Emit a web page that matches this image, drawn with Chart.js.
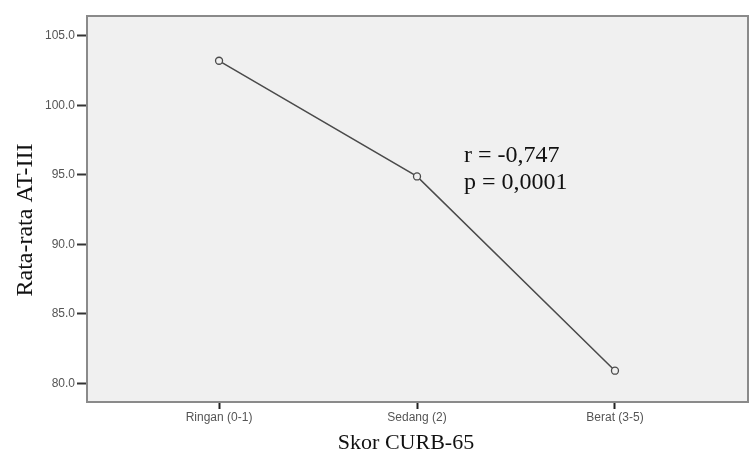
<!DOCTYPE html>
<html>
<head>
<meta charset="utf-8">
<script src="https://cdn.jsdelivr.net/npm/chart.js@4.4.1/dist/chart.umd.min.js"></script>
<style>
  html, body { margin: 0; padding: 0; background: #ffffff; }
  #wrap { width: 749px; height: 451px; }
</style>
</head>
<body>
<div id="wrap"><canvas id="chart" width="749" height="451"></canvas></div>
<script>
// data
const categories = ['Ringan (0-1)', 'Sedang (2)', 'Berat (3-5)'];
const meanAT3 = [103.2, 94.88, 80.91];
const yTickValues = [80, 85, 90, 95, 100, 105];
const xTitle = 'Skor CURB-65';
const yTitle = 'Rata-rata AT-III';
const statLines = ['r = -0,747', 'p = 0,0001'];

const serif = '"Liberation Serif", "DejaVu Serif", serif';
const sans = '"Liberation Sans", Arial, sans-serif';

// background, frame, axis titles and the r/p note
const decorPlugin = {
    id: 'decor',
    beforeDraw(chart) {
        const a = chart.chartArea;
        const ctx = chart.ctx;
        ctx.save();
        ctx.fillStyle = '#f0f0f0';
        ctx.fillRect(a.left, a.top, a.right - a.left, a.bottom - a.top);
        ctx.restore();
    },
    afterDraw(chart) {
        const a = chart.chartArea;
        const ctx = chart.ctx;
        ctx.save();
        ctx.strokeStyle = '#8a8a8a';
        ctx.lineWidth = 2;
        ctx.strokeRect(a.left, a.top, a.right - a.left, a.bottom - a.top);

        ctx.fillStyle = '#111';
        ctx.font = '22px ' + serif;
        ctx.textAlign = 'center';
        ctx.textBaseline = 'alphabetic';
        ctx.fillText(xTitle, 406, 449);

        ctx.save();
        ctx.translate(31.5, 220);
        ctx.rotate(-Math.PI / 2);
        ctx.font = '24px ' + serif;
        ctx.textAlign = 'center';
        ctx.fillText(yTitle, 0, 0);
        ctx.restore();

        ctx.font = '24px ' + serif;
        ctx.textAlign = 'left';
        ctx.fillText(statLines[0], 464, 162);
        ctx.fillText(statLines[1], 464, 189);
        ctx.restore();
    }
};

const ctx = document.getElementById('chart').getContext('2d');
new Chart(ctx, {
    type: 'line',
    data: {
        datasets: [{
            data: meanAT3.map(function (v, i) { return { x: i, y: v }; }),
            borderColor: '#4a4a4a',
            borderWidth: 1.5,
            tension: 0,
            fill: false,
            pointRadius: 3.5,
            pointBorderWidth: 1.3,
            pointBorderColor: '#4a4a4a',
            pointBackgroundColor: '#f0f0f0'
        }]
    },
    options: {
        responsive: false,
        animation: false,
        devicePixelRatio: 1,
        layout: { autoPadding: false, padding: { top: 16, right: 1, bottom: 0, left: 0 } },
        plugins: {
            legend: { display: false },
            tooltip: { enabled: false }
        },
        scales: {
            x: {
                type: 'linear',
                min: -0.667,
                max: 2.672,
                afterFit: function (s) { s.height = 49; },
                afterBuildTicks: function (s) {
                    s.ticks = categories.map(function (c, i) { return { value: i }; });
                },
                ticks: {
                    color: '#555',
                    font: { family: sans, size: 12 },
                    padding: 1,
                    maxRotation: 0,
                    callback: function (v) { return categories[v]; }
                },
                grid: {
                    drawOnChartArea: false,
                    drawTicks: true,
                    tickLength: 7,
                    tickWidth: 2,
                    tickColor: '#222'
                },
                border: { display: false }
            },
            y: {
                min: 78.66,
                max: 106.42,
                afterFit: function (s) { s.width = 87; },
                afterBuildTicks: function (s) {
                    s.ticks = yTickValues.map(function (v) { return { value: v }; });
                },
                ticks: {
                    color: '#555',
                    font: { family: sans, size: 12 },
                    padding: 2,
                    callback: function (v) { return Number(v).toFixed(1); }
                },
                grid: {
                    drawOnChartArea: false,
                    drawTicks: true,
                    tickLength: 10,
                    tickWidth: 2,
                    tickColor: '#333'
                },
                border: { display: false }
            }
        }
    },
    plugins: [decorPlugin]
});
</script>
</body>
</html>
